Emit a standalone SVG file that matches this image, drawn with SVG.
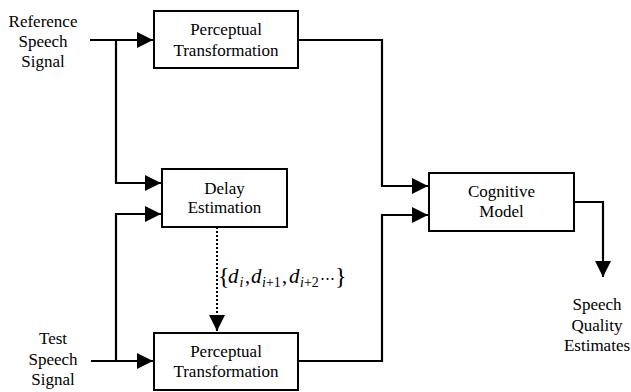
<svg xmlns="http://www.w3.org/2000/svg" width="631" height="392" viewBox="0 0 631 392">
<style>
.box{fill:#fff;stroke:#000;stroke-width:2}
text{font-family:"Liberation Serif","Times New Roman",serif;fill:#000}
.t{font-size:17px;text-anchor:middle}
.c{fill:none;stroke:#000;stroke-width:2.2}
.dot{fill:none;stroke:#000;stroke-width:2;stroke-dasharray:2 2}
.it{font-style:italic}
</style>
<defs>
<marker id="ah" markerUnits="userSpaceOnUse" markerWidth="16" markerHeight="16" viewBox="0 0 15 15" refX="15" refY="7.5" orient="auto">
<path d="M0,0 L15,7.5 L0,15 z" fill="#000"/>
</marker>
</defs>
<rect width="631" height="392" fill="#fff"/>
<g id="connectors">
<path class="c" d="M90,40 L153,40" marker-end="url(#ah)"/>
<path class="c" d="M116,40 L116,183 L161,183" marker-end="url(#ah)"/>
<path class="c" d="M91,361 L153,361" marker-end="url(#ah)"/>
<path class="c" d="M116,361 L116,214 L161,214" marker-end="url(#ah)"/>
<path class="c" d="M298,40 L382,40 L382,186 L428,186" marker-end="url(#ah)"/>
<path class="c" d="M298,361 L382,361 L382,215 L428,215" marker-end="url(#ah)"/>
<path class="c" d="M574,202 L603,202 L603,277" marker-end="url(#ah)"/>
<path class="dot" d="M217,227 L217,316"/>
<path class="c" d="M217,316 L217,331" stroke="none" marker-end="url(#ah)"/>
</g>
<g id="ref-input">
<text class="t" x="43" y="27">Reference</text>
<text class="t" x="43" y="47">Speech</text>
<text class="t" x="43" y="67">Signal</text>
</g>
<g id="test-input">
<text class="t" x="53" y="344">Test</text>
<text class="t" x="53" y="365">Speech</text>
<text class="t" x="53" y="385">Signal</text>
</g>
<g id="perceptual-top">
<rect class="box" x="154" y="11" width="144" height="57"/>
<text class="t" x="226" y="35">Perceptual</text>
<text class="t" x="226" y="56">Transformation</text>
</g>
<g id="delay">
<rect class="box" x="162" y="169" width="125" height="58"/>
<text class="t" x="224.5" y="194">Delay</text>
<text class="t" x="224.5" y="213">Estimation</text>
</g>
<g id="perceptual-bottom">
<rect class="box" x="154" y="333" width="144" height="57"/>
<text class="t" x="226" y="357">Perceptual</text>
<text class="t" x="226" y="377">Transformation</text>
</g>
<g id="cognitive">
<rect class="box" x="429" y="173" width="145" height="58"/>
<text class="t" x="501.5" y="197">Cognitive</text>
<text class="t" x="501.5" y="217">Model</text>
</g>
<g id="output">
<text class="t" x="597" y="310">Speech</text>
<text class="t" x="597" y="331">Quality</text>
<text class="t" x="597" y="351">Estimates</text>
</g>
<g id="delay-label">
<text y="283"><tspan x="218" y="284" font-size="24">{</tspan><tspan class="it" x="228" y="283" font-size="21">d</tspan><tspan class="it" x="239.5" y="287" font-size="14">i</tspan><tspan x="245" y="283" font-size="20">,</tspan><tspan class="it" x="251" y="283" font-size="21">d</tspan><tspan class="it" x="262" y="287" font-size="14">i</tspan><tspan font-size="14">+1</tspan><tspan x="282" y="283" font-size="20">,</tspan><tspan class="it" x="289" y="283" font-size="21">d</tspan><tspan class="it" x="300" y="287" font-size="14">i</tspan><tspan font-size="14">+2</tspan><tspan x="320" y="283" font-size="15">⋯</tspan><tspan x="335" y="284" font-size="24">}</tspan></text>
</g>
</svg>
